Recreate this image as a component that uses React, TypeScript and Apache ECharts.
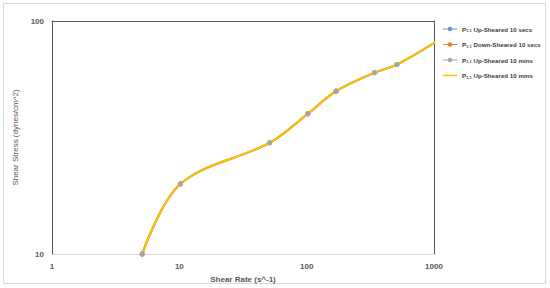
import React, { useEffect, useRef } from "react";
import * as echarts from "echarts";

const shearRate = [5.11, 10.22, 51.1, 102.2, 170.3, 340.6, 510.9, 1021.8];
const shearStress = [10, 20, 30, 40, 50, 60, 65, 81];
const seriesNames = [
  "P1,1 Up-Sheared 10 secs",
  "P1,1 Down-Sheared 10 secs",
  "P1,1 Up-Sheared 10 mins",
  "P1,1 Up-Sheared 10 mins ",
];
const seriesColors = ["#5B9BD5", "#ED7D31", "#A5A5A5", "#FFC000"];
const xTicks = [1, 10, 100, 1000];
const yTicks = [10, 100];

const FONT = "'Liberation Sans', Arial, sans-serif";
const ICON_MARK = "path://M0,0 M0,1.9 H14 V3.1 H0 Z M9.3,2.5 A2.3,2.3 0 1 1 4.7,2.5 A2.3,2.3 0 1 1 9.3,2.5 Z M14,5";
const ICON_LINE = "path://M0,0 M0,1.75 H14 V3.25 H0 Z M14,5";

export default function App() {
  const ref = useRef<HTMLDivElement>(null);
  useEffect(() => {
    if (!ref.current) return;
    const chart = echarts.init(ref.current, undefined, { renderer: "svg" });
    const data = shearRate.map((x, i) => [x, shearStress[i]]);
    const series = seriesNames.map((name, i) => {
      const isYellow = i === 3;
      const isGray = i === 2;
      return {
        name,
        type: "line",
        data,
        smooth: 0.35,
        z: isGray ? 4 : isYellow ? 3 : 2,
        symbol: isYellow ? "none" : "circle",
        symbolSize: 5,
        showSymbol: !isYellow,
        itemStyle: { color: seriesColors[i], borderWidth: 0 },
        lineStyle: { color: seriesColors[i], width: 2, opacity: isGray ? 0 : 1 },
        clip: true,
      };
    });
    chart.setOption({
      animation: false,
      backgroundColor: "#ffffff",
      textStyle: { fontFamily: FONT },
      graphic: [
        {
          type: "rect",
          shape: { x: 3.5, y: 3.5, width: 542, height: 280 },
          style: { fill: "none", stroke: "#d9d9d9", lineWidth: 1 },
          silent: true,
        },
      ],
      legend: {
        orient: "vertical",
        left: 441,
        top: 24,
        itemGap: 9,
        itemWidth: 14,
        itemHeight: 5,
        padding: [2, 2, 2, 2],
        itemStyle: { borderWidth: 0 },
        data: seriesNames.map((n, i) => ({
          name: n,
          icon: i === 3 ? ICON_LINE : ICON_MARK,
          itemStyle: { color: seriesColors[i], borderWidth: 0, opacity: 1 },
        })),
        formatter: (name: string) => {
          const rest = name.replace(/^P1,1 /, "").trim();
          return "{p|P}{s|1,1}{p| " + rest + "}";
        },
        textStyle: {
          fontFamily: FONT,
          padding: [0, 0, 0, 0],
          rich: {
            p: { fontSize: 6.2, fontWeight: "bold", color: "#404040", fontFamily: FONT },
            s: { fontSize: 4, fontWeight: "bold", color: "#404040", fontFamily: FONT, verticalAlign: "bottom", padding: [3, 0, 0, 0] },
          },
        },
      },
      grid: { left: 52, right: 116, top: 21, bottom: 34, containLabel: false },
      xAxis: [
        {
          type: "log",
          logBase: 10,
          min: xTicks[0],
          max: xTicks[xTicks.length - 1],
          name: "Shear Rate (s^-1)",
          nameLocation: "middle",
          nameGap: 21,
          nameTextStyle: { fontSize: 8, fontWeight: "bold", color: "#595959", fontFamily: FONT },
          axisLine: { show: true, lineStyle: { color: "#d9d9d9", width: 1 } },
          axisTick: { show: false },
          splitLine: { show: false },
          axisLabel: {
            fontSize: 8,
            fontWeight: "bold",
            color: "#595959",
            margin: 8,
            fontFamily: FONT,
            formatter: (v: number) => String(Math.round(v)),
          },
        },
        {
          type: "log",
          logBase: 10,
          min: xTicks[0],
          max: xTicks[xTicks.length - 1],
          position: "top",
          axisLine: { show: true, lineStyle: { color: "#595959", width: 1 } },
          axisTick: { show: false },
          splitLine: { show: false },
          axisLabel: { show: false },
        },
      ],
      yAxis: [
        {
          type: "log",
          logBase: 10,
          min: yTicks[0],
          max: yTicks[yTicks.length - 1],
          name: "Shear Stress (dynes/cm^2)",
          nameLocation: "middle",
          nameGap: 28,
          nameTextStyle: { fontSize: 8, color: "#595959", fontFamily: FONT },
          axisLine: { show: true, lineStyle: { color: "#595959", width: 1 } },
          axisTick: { show: false },
          splitLine: { show: false },
          axisLabel: {
            fontSize: 8,
            fontWeight: "bold",
            color: "#595959",
            margin: 8,
            fontFamily: FONT,
            formatter: (v: number) => String(Math.round(v)),
          },
        },
        {
          type: "log",
          logBase: 10,
          min: yTicks[0],
          max: yTicks[yTicks.length - 1],
          position: "right",
          axisLine: { show: true, lineStyle: { color: "#595959", width: 1 } },
          axisTick: { show: false },
          splitLine: { show: false },
          axisLabel: { show: false },
        },
      ],
      series,
    });
    return () => chart.dispose();
  }, []);
  return (
    <div
      ref={ref}
      style={{ position: "fixed", left: 0, top: 0, width: 550, height: 288 }}
    />
  );
}
